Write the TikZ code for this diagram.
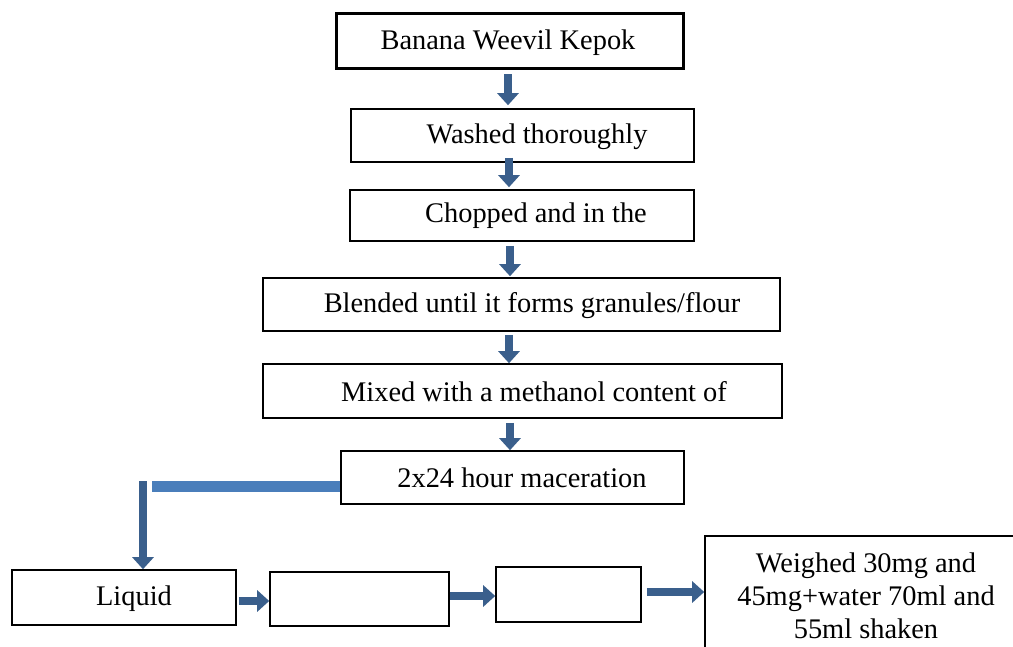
\documentclass[tikz,border=0pt]{standalone}
\usepackage{fontspec}
\setmainfont{Liberation Serif}
\usetikzlibrary{arrows.meta}
\definecolor{arrowc}{RGB}{58,95,140}
\definecolor{bandc}{RGB}{74,126,187}
\begin{document}
\begin{tikzpicture}[x=1pt,y=-1pt,
  box/.style={draw=black,line width=1.6pt,inner sep=0pt,fill=white},
  txt/.style={inner sep=0pt,font=\fontsize{28.4}{33}\selectfont,align=center},
  arr/.style={draw=arrowc,line width=8.5pt,-{Triangle[width=21pt,length=12pt]}},
  band/.style={draw=bandc,line width=11pt}]
\path[use as bounding box,clip] (0,0) rectangle (1013,647);
\fill[white] (0,0) rectangle (1013,647);
% boxes
\node[box,line width=3.6pt,minimum width=347pt,minimum height=55pt] (b1) at (510,41) {};
\node[box,minimum width=343pt,minimum height=53pt] (b2) at (522.5,135.5) {};
\node[box,minimum width=344pt,minimum height=51pt] (b3) at (522,215.5) {};
\node[box,minimum width=517pt,minimum height=53pt] (b4) at (521.5,304.5) {};
\node[box,minimum width=519pt,minimum height=54pt] (b5) at (522.5,391) {};
\node[box,minimum width=343pt,minimum height=53pt] (b6) at (512.5,477.5) {};
\node[box,minimum width=224pt,minimum height=55pt] (l1) at (124,597.5) {};
\node[box,minimum width=179pt,minimum height=54pt] (l2) at (359.5,599) {};
\node[box,minimum width=145pt,minimum height=55pt] (l3) at (568.5,594.5) {};
\node[box,minimum width=330pt,minimum height=140pt] (l4) at (870,606) {};
% texts
\node[txt] (t1) at (508,43) {Banana Weevil Kepok};
\node[txt] (t2) at (537,137) {Washed thoroughly};
\node[txt] (t3) at (536,216) {Chopped and in the};
\node[txt] (t4) at (532,306) {Blended until it forms granules/flour};
\node[txt] (t5) at (534,392) {Mixed with a methanol content of};
\node[txt] (t6) at (522,478) {2x24 hour maceration};
\node[txt] (t7) at (134,599) {Liquid};
\node[txt,anchor=north] (t8) at (866,553) {Weighed 30mg and\\45mg+water 70ml and\\55ml shaken};
% arrow columns
\coordinate (xa) at (508,0);
\coordinate (xb) at (509,0);
\coordinate (xc) at (510,0);
\coordinate (xd) at (143,0);
\draw[arr] ([yshift=-4pt]b1.south -| xa) -- ([yshift=3pt]b2.north -| xa);
\draw[arr] ([yshift=5pt]b2.south -| xb) -- ([yshift=2pt]b3.north -| xb);
\draw[arr] ([yshift=-4pt]b3.south -| xc) -- ([yshift=1pt]b4.north -| xc);
\draw[arr] ([yshift=-3pt]b4.south -| xb) -- (b5.north -| xb);
\draw[arr] ([yshift=-4pt]b5.south -| xc) -- (b6.north -| xc);
% L connector
\coordinate (bend) at (152,486);
\draw[band] (b6.west |- bend) -- (bend);
\draw[arr,line width=8pt] (143,481) coordinate (vtop) -- (l1.north -| xd);
% horizontal arrows
\draw[arr] ([xshift=2pt]l1.east |- 0,601) coordinate (h1) -- (l2.west |- h1);
\draw[arr] (l2.east |- 0,596) coordinate (h2) -- (l3.west |- h2);
\draw[arr] ([xshift=5pt]l3.east |- 0,592) coordinate (h3) -- (l4.west |- h3);
\end{tikzpicture}
\end{document}
